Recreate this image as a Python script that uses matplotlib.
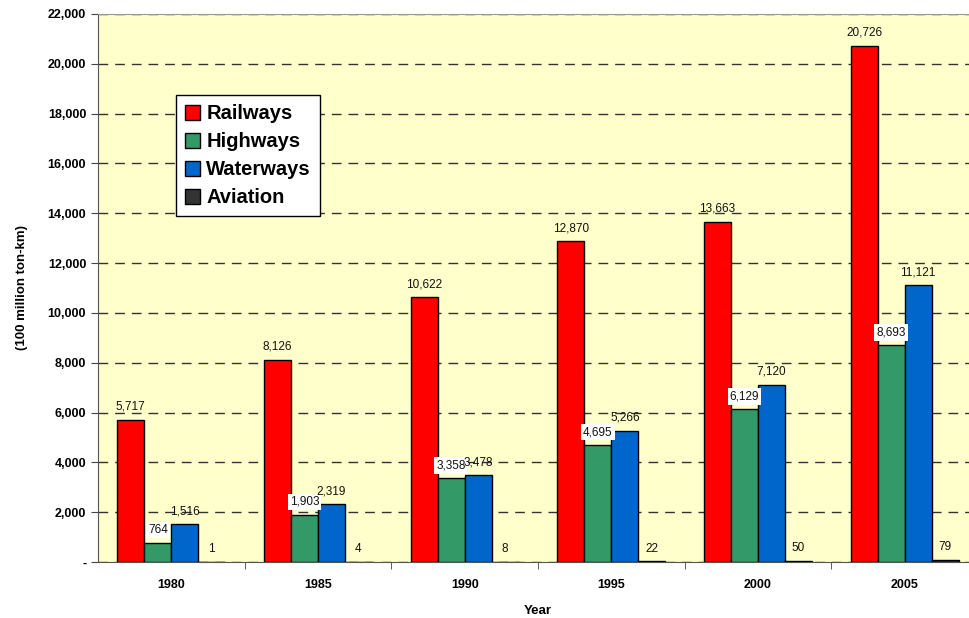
import numpy as np
import matplotlib
matplotlib.use('Agg')
import matplotlib.pyplot as plt
from matplotlib.ticker import FuncFormatter

plt.rcParams['font.family'] = ['Liberation Sans', 'DejaVu Sans']

years = ['1980', '1985', '1990', '1995', '2000', '2005']
railways = [5717, 8126, 10622, 12870, 13663, 20726]
highways = [764, 1903, 3358, 4695, 6129, 8693]
waterways = [1516, 2319, 3478, 5266, 7120, 11121]
aviation = [1, 4, 8, 22, 50, 79]

series = [('Railways', railways, '#FF0000'),
          ('Highways', highways, '#339966'),
          ('Waterways', waterways, '#0066CC'),
          ('Aviation', aviation, '#333333')]

fig = plt.figure(figsize=(9.69, 6.18), dpi=100)
ax = fig.add_axes([98/969, 56/618, 880/969, 548/618])
ax.set_facecolor('#FFFFCC')

x = np.arange(len(years))
w = 0.184
offsets = [-1.5, -0.5, 0.5, 1.5]
for (name, vals, col), off in zip(series, offsets):
    bars = ax.bar(x + off*w, vals, w, color=col, edgecolor='black',
                  linewidth=1, label=name, zorder=3)
    for b, v in zip(bars, vals):
        box = None
        if name == 'Highways':
            box = dict(facecolor='white', edgecolor='none', pad=1.5)
        ax.annotate(f'{v:,}', (b.get_x() + b.get_width()/2, v),
                    xytext=(0, 5), textcoords='offset points',
                    ha='center', va='bottom', fontsize=8.5, color='#111111',
                    bbox=box, zorder=4)

ax.set_xlim(-0.5, 5.5)
ax.set_ylim(0, 22000)
ax.set_yticks(np.arange(0, 22001, 2000))
ax.yaxis.set_major_formatter(FuncFormatter(lambda v, p: '-' if v == 0 else f'{int(v):,}'))
ax.set_xticks(x)
ax.set_xticklabels(years)
ax.set_xticks(np.arange(0.5, 5.5, 1), minor=True)
ax.tick_params(axis='x', which='major', length=0, pad=12)
ax.tick_params(axis='x', which='minor', length=5, direction='out', color='#444444')
ax.tick_params(axis='y', length=5, direction='out', color='#444444')
for lbl in ax.get_xticklabels() + ax.get_yticklabels():
    lbl.set_fontweight('bold')
    lbl.set_fontsize(9)

ax.grid(axis='y', linestyle=(0, (7, 5)), color='#333333', linewidth=1, zorder=1)
for s in ['left', 'bottom']:
    ax.spines[s].set_color('#555555')
ax.spines['top'].set_color('#999999')
ax.spines['right'].set_visible(False)

ax.set_ylabel('(100 million ton-km)', fontsize=9.5, fontweight='bold', labelpad=14)
ax.set_xlabel('Year', fontsize=9.5, fontweight='bold', labelpad=10)

leg = ax.legend(loc='upper left', bbox_to_anchor=(0.0886, 0.852), borderaxespad=0,
                prop={'weight': 'bold', 'size': 14.5}, fancybox=False, framealpha=1,
                edgecolor='black', handlelength=0.75, handleheight=0.75,
                handletextpad=0.3, labelspacing=0.45, borderpad=0.45)
leg.get_frame().set_linewidth(1)

fig.savefig('out.png', dpi=100)
